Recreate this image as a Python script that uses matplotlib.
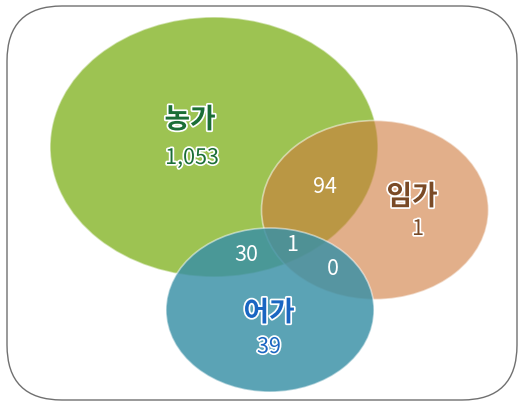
import matplotlib.pyplot as plt
import matplotlib.patheffects as pe
from matplotlib.patches import Ellipse, FancyBboxPatch

plt.rcParams['font.family'] = ['Noto Sans CJK KR', 'DejaVu Sans']

# Venn data: set names, counts unique to each set, overlap counts
set_names  = ['농가', '임가', '어가']
set_counts = ['1,053', '1', '39']
overlap_labels = ['94', '30', '0', '1']   # 농+임, 농+어, 임+어, all three

# Layout in pixel units (x, y, width, height)
ellipses = [(214, 147, 328, 260),
            (375, 210, 227, 179),
            (270, 310, 208, 164)]
face_colors = [(157/255, 195/255, 82/255, 1.0),
               (207/255, 123/255, 60/255, 0.6),
               (58/255, 144/255, 166/255, 0.83)]
name_pos  = [(190, 120), (412, 197), (269, 313)]
count_pos = [(192, 158), (418, 229), (269, 347)]
name_colors = ['#1b6e36', '#7a4a26', '#1a66c2']
overlap_pos = [(325, 187), (246, 255), (333, 269), (292, 245)]

fig = plt.figure(figsize=(5.18, 4.01), dpi=100)
ax = fig.add_axes([0, 0, 1, 1])
ax.set_xlim(0, 518)
ax.set_ylim(401, 0)
ax.axis('off')

# rounded frame
frame = FancyBboxPatch((7, 6), 510, 394, boxstyle='round,pad=0,rounding_size=55',
                       facecolor='white', edgecolor='#707070', linewidth=1.0)
ax.add_patch(frame)

for (x, y, w, h), fc in zip(ellipses, face_colors):
    ax.add_patch(Ellipse((x, y), w, h, facecolor=fc,
                         edgecolor=(1, 1, 1, 0.5), linewidth=1.2))

outline = [pe.withStroke(linewidth=2.5, foreground='white')]

for name, cnt, npos, cpos, col in zip(set_names, set_counts, name_pos, count_pos, name_colors):
    ax.text(npos[0], npos[1], name, fontsize=20, fontweight='bold', color=col,
            ha='center', va='center', path_effects=outline)
    ax.text(cpos[0], cpos[1], cnt, fontsize=15.5, color=col,
            ha='center', va='center', path_effects=outline)

for lab, pos in zip(overlap_labels, overlap_pos):
    ax.text(pos[0], pos[1], lab, fontsize=15.5, color='white',
            ha='center', va='center')

fig.savefig('out.png', dpi=100)
